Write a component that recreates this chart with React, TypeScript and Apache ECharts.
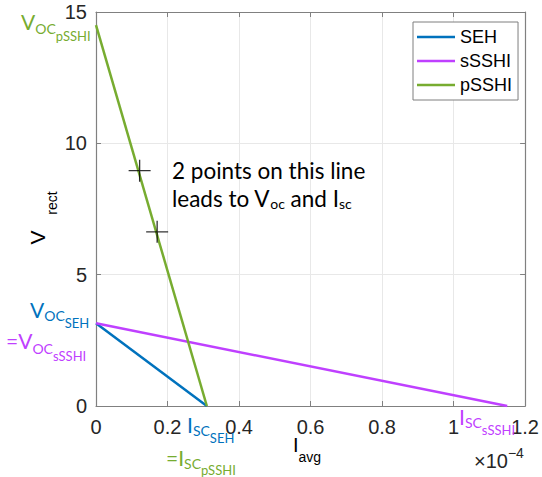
import React, { useEffect, useRef } from "react";
import * as echarts from "echarts";

// Data (x in units of 1e-4 A, y in V)
const xTicks = [0, 0.2, 0.4, 0.6, 0.8, 1, 1.2];
const yTicks = [0, 5, 10, 15];
const seriesNames = ["SEH", "sSSHI", "pSSHI"];
const sehLine = [
  [0, 3.15],
  [0.31, 0],
];
const sSSHILine = [
  [0, 3.15],
  [1.15, 0],
];
const pSSHILine = [
  [0, 14.5],
  [0.31, 0],
];
const measuredPoints = [
  [0.122, 8.96],
  [0.171, 6.63],
];

const BLUE = "#0072bd";
const PURPLE = "#bf40ff";
const GREEN = "#77ac30";
const AXIS = "#808080";
const TICKTXT = "#262626";
const CAL = "Lato, 'Noto Sans', sans-serif";
const ARIAL = "'Liberation Sans', Arial, sans-serif";

let measureCtx: CanvasRenderingContext2D | null = null;
function measure(text: string, size: number, family: string) {
  if (!measureCtx) measureCtx = document.createElement("canvas").getContext("2d");
  if (!measureCtx) return text.length * size * 0.5;
  measureCtx.font = `${size}px ${family}`;
  return measureCtx.measureText(text).width;
}

function t(
  text: string,
  x: number,
  y: number,
  size: number,
  color: string,
  family: string = CAL,
  extra: any = {}
) {
  return {
    type: "text",
    x,
    y,
    silent: true,
    z: 100,
    ...extra,
    style: {
      text,
      fill: color,
      fontSize: size,
      fontFamily: family,
      align: extra.align || "left",
      verticalAlign: "middle",
    },
  };
}

// parts: [text, fontSize, centerY]
function chain(
  x: number,
  parts: [string, number, number][],
  color: string,
  family: string = CAL
) {
  const out: any[] = [];
  let cx = x;
  for (const [text, size, cy] of parts) {
    out.push(t(text, cx, cy, size, color, family));
    cx += measure(text, size, family);
  }
  return out;
}

const CROSS =
  "path://M-1,-0.06 L1,-0.06 L1,0.06 L-1,0.06 Z M-0.06,-1 L0.06,-1 L0.06,1 L-0.06,1 Z";

export default function App() {
  const ref = useRef<HTMLDivElement>(null);
  useEffect(() => {
    if (!ref.current) return;
    const chart = echarts.init(ref.current, null, { renderer: "svg" });
    const xMin = xTicks[0];
    const xMax = xTicks[xTicks.length - 1];
    const xInt = xTicks[1] - xTicks[0];
    const yMin = yTicks[0];
    const yMax = yTicks[yTicks.length - 1];
    const yInt = yTicks[1] - yTicks[0];
    const axisBase = {
      type: "value",
      axisLine: { show: true, onZero: false, lineStyle: { color: AXIS, width: 1.2 } },
      axisTick: { show: true, inside: true, length: 5, lineStyle: { color: AXIS, width: 1 } },
    };
    chart.setOption({
      animation: false,
      backgroundColor: "#fff",
      grid: { left: 96, right: 13, top: 12, bottom: 71, containLabel: false },
      xAxis: [
        {
          ...axisBase,
          position: "bottom",
          min: xMin,
          max: xMax,
          interval: xInt,
          axisLabel: {
            margin: 11,
            fontSize: 20,
            fontFamily: ARIAL,
            color: TICKTXT,
            formatter: (v: number) => String(+v.toFixed(1)),
          },
          splitLine: { show: true, lineStyle: { color: "#e8e8e8", width: 1 } },
        },
        {
          ...axisBase,
          position: "top",
          min: xMin,
          max: xMax,
          interval: xInt,
          axisLabel: { show: false },
          splitLine: { show: false },
        },
      ],
      yAxis: [
        {
          ...axisBase,
          position: "left",
          min: yMin,
          max: yMax,
          interval: yInt,
          axisLabel: {
            margin: 9,
            fontSize: 20,
            fontFamily: ARIAL,
            color: TICKTXT,
          },
          splitLine: { show: true, lineStyle: { color: "#e8e8e8", width: 1 } },
        },
        {
          ...axisBase,
          position: "right",
          min: yMin,
          max: yMax,
          interval: yInt,
          axisLabel: { show: false },
          splitLine: { show: false },
        },
      ],
      legend: {
        data: seriesNames,
        orient: "vertical",
        left: 413,
        top: 22,
        padding: [6, 6, 6, 4],
        itemGap: 6,
        itemWidth: 38,
        itemHeight: 2.5,
        icon: "rect",
        backgroundColor: "#fff",
        borderColor: "#7f7f7f",
        borderWidth: 1,
        textStyle: {
          fontSize: 18,
          fontFamily: ARIAL,
          color: "#000",
          lineHeight: 18,
        },
      },
      series: [
        {
          name: seriesNames[0],
          type: "line",
          data: sehLine,
          symbol: "none",
          lineStyle: { color: BLUE, width: 2.5 },
          itemStyle: { color: BLUE },
        },
        {
          name: seriesNames[1],
          type: "line",
          data: sSSHILine,
          symbol: "none",
          lineStyle: { color: PURPLE, width: 2.5 },
          itemStyle: { color: PURPLE },
        },
        {
          name: seriesNames[2],
          type: "line",
          data: pSSHILine,
          symbol: "none",
          lineStyle: { color: GREEN, width: 2.5 },
          itemStyle: { color: GREEN },
        },
        {
          name: "points",
          type: "scatter",
          data: measuredPoints,
          symbol: CROSS,
          symbolSize: 22,
          itemStyle: { color: "#000" },
          z: 10,
        },
      ],
      graphic: [
        // V_OC_pSSHI
        ...chain(21, [["V", 21, 21], ["OC", 14, 28.5], ["pSSHI", 13, 36]], GREEN),
        // V_OC_SEH
        ...chain(30, [["V", 21, 309.5], ["OC", 14, 315.5], ["SEH", 13, 323]], BLUE),
        // =V_OC_sSSHI
        ...chain(6, [["=V", 21, 340.5], ["OC", 14, 348], ["sSSHI", 13, 356]], PURPLE),
        // I_SC_SEH
        ...chain(187, [["I", 21, 424.5], ["SC", 14, 430.5], ["SEH", 13, 438]], BLUE),
        // =I_SC_pSSHI
        ...chain(166, [["=I", 21, 457.5], ["SC", 14, 463.5], ["pSSHI", 13, 470]], GREEN),
        // I_SC_sSSHI
        ...chain(459, [["I", 21, 416], ["SC", 14, 422], ["sSSHI", 13, 430]], PURPLE),
        // note text
        t("2 points on this line", 172, 170, 22.5, "#000"),
        ...chain(
          172,
          [
            ["leads to V", 22.5, 198],
            ["oc", 14, 203],
            [" and I", 22.5, 198],
            ["sc", 14, 203],
          ],
          "#000"
        ),
        // axis titles
        ...chain(293, [["I", 20, 444.5], ["avg", 14, 457]], "#000", ARIAL),
        ...chain(474, [["\u00d710", 20, 461], ["\u22124", 14, 453]], TICKTXT, ARIAL),
        t("V", 37.5, 237.5, 21, "#000", ARIAL, { rotation: Math.PI / 2, align: "center" }),
        t("rect", 52, 203, 14, "#000", ARIAL, { rotation: Math.PI / 2, align: "center" }),
      ],
    });
    return () => chart.dispose();
  }, []);
  return (
    <div
      ref={ref}
      style={{ position: "fixed", left: 0, top: 0, width: 542, height: 477, background: "#fff" }}
    />
  );
}
